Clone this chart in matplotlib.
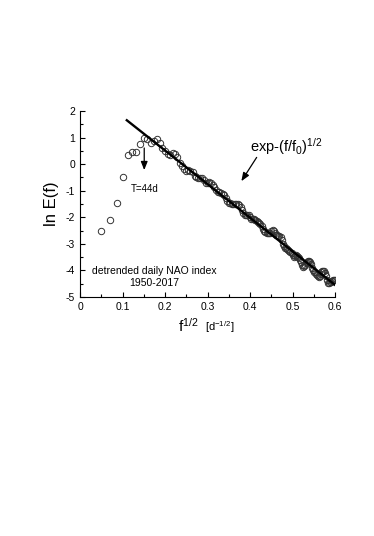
import matplotlib
matplotlib.use("Agg")
import matplotlib.pyplot as plt

plt.rcParams['font.family'] = ['Liberation Sans', 'DejaVu Sans']
plt.rcParams['mathtext.fontset'] = 'custom'
plt.rcParams['mathtext.rm'] = 'Liberation Sans'
plt.rcParams['mathtext.it'] = 'Liberation Sans'

# f^(1/2) values of the spectrum points
x_pts = [0.05, 0.0707, 0.0866, 0.1, 0.1118, 0.1225, 0.1323, 0.1414, 0.15, 0.1581,
         0.1658, 0.1732, 0.1803, 0.1871, 0.1936, 0.2, 0.2062, 0.2121, 0.2179, 0.2236,
         0.2291, 0.2345, 0.2398, 0.2449, 0.25, 0.255, 0.2598, 0.2646, 0.2693, 0.2739,
         0.2784, 0.2828, 0.2872, 0.2915, 0.2958, 0.3, 0.3041, 0.3082, 0.3122, 0.3162,
         0.3202, 0.3240, 0.3279, 0.3317, 0.3354, 0.3391, 0.3428, 0.3464, 0.35, 0.3536,
         0.3571, 0.3606, 0.3640, 0.3674, 0.3708, 0.3742, 0.3775, 0.3808, 0.3841, 0.3873,
         0.3905, 0.3937, 0.3969, 0.4, 0.4031, 0.4062, 0.4093, 0.4123, 0.4153, 0.4183,
         0.4213, 0.4243, 0.4272, 0.4301, 0.4330, 0.4359, 0.4387, 0.4416, 0.4444, 0.4472,
         0.45, 0.4528, 0.4555, 0.4583, 0.4610, 0.4637, 0.4664, 0.4690, 0.4717, 0.4743,
         0.4770, 0.4796, 0.4822, 0.4848, 0.4873, 0.4899, 0.4924, 0.4950, 0.4975, 0.5,
         0.5025, 0.5050, 0.5074, 0.5099, 0.5123, 0.5148, 0.5172, 0.5196, 0.5220, 0.5244,
         0.5268, 0.5292, 0.5315, 0.5339, 0.5362, 0.5385, 0.5408, 0.5431, 0.5454, 0.5477,
         0.55, 0.5523, 0.5545, 0.5568, 0.5590, 0.5612, 0.5635, 0.5657, 0.5679, 0.5701,
         0.5723, 0.5745, 0.5766, 0.5788, 0.5809, 0.5831, 0.5852, 0.5874, 0.5895, 0.5916,
         0.5937, 0.5958, 0.5979, 0.6]

# ln E(f)
y_pts = [-2.50, -2.10, -1.45, -0.48, 0.36, 0.44, 0.45, 0.74, 1.00, 0.93,
         0.80, 0.88, 0.93, 0.78, 0.62, 0.48, 0.38, 0.36, 0.40, 0.38,
         0.25, 0.05, -0.08, -0.20, -0.25, -0.22, -0.26, -0.30, -0.45, -0.50,
         -0.52, -0.52, -0.54, -0.60, -0.70, -0.72, -0.68, -0.70, -0.80, -0.88,
         -0.98, -1.06, -1.04, -1.10, -1.12, -1.18, -1.28, -1.40, -1.45, -1.48,
         -1.50, -1.52, -1.50, -1.52, -1.50, -1.54, -1.62, -1.73, -1.85, -1.90,
         -1.92, -1.93, -1.92, -1.98, -2.05, -2.08, -2.08, -2.10, -2.14, -2.18,
         -2.22, -2.25, -2.32, -2.45, -2.50, -2.55, -2.58, -2.60, -2.60, -2.58,
         -2.52, -2.48, -2.50, -2.58, -2.65, -2.68, -2.70, -2.72, -2.74, -2.85,
         -3.00, -3.10, -3.14, -3.16, -3.20, -3.24, -3.28, -3.30, -3.36, -3.44,
         -3.48, -3.46, -3.44, -3.46, -3.48, -3.52, -3.60, -3.70, -3.80, -3.86,
         -3.84, -3.78, -3.72, -3.68, -3.66, -3.66, -3.68, -3.76, -3.90, -4.00,
         -4.05, -4.08, -4.12, -4.18, -4.22, -4.24, -4.20, -4.14, -4.08, -4.04,
         -4.02, -4.04, -4.10, -4.22, -4.36, -4.46, -4.48, -4.45, -4.42, -4.40,
         -4.40, -4.38, -4.37, -4.36]

# straight-line fit exp-(f/f0)^(1/2)
fit_x = [0.11, 0.6]
fit_y = [1.65, -4.55]

x_ticks = [0, 0.1, 0.2, 0.3, 0.4, 0.5, 0.6]
x_ticklabels = ['0', '0.1', '0.2', '0.3', '0.4', '0.5', '0.6']
y_ticks = [-5, -4, -3, -2, -1, 0, 1, 2]
y_ticklabels = ['-5', '-4', '-3', '-2', '-1', '0', '1', '2']

fig = plt.figure(figsize=(3.74, 5.36), dpi=100)
ax = fig.add_axes([0.214, 0.446, 0.682, 0.347])

ax.plot(x_pts, y_pts, 'o', mfc='none', mec='#333333', mew=0.7, ms=4.6, zorder=2)
ax.plot(fit_x, fit_y, '-', color='black', lw=1.7, zorder=3)

ax.set_xlim(0, 0.6)
ax.set_ylim(-5, 2)
ax.set_xticks(x_ticks)
ax.set_xticklabels(x_ticklabels)
ax.set_yticks(y_ticks)
ax.set_yticklabels(y_ticklabels)
ax.set_xticks([0.05, 0.15, 0.25, 0.35, 0.45, 0.55], minor=True)
ax.set_yticks([-4.5, -3.5, -2.5, -1.5, -0.5, 0.5, 1.5], minor=True)
ax.tick_params(which='both', direction='in', labelsize=7.5, width=0.8)
ax.tick_params(which='major', length=3.5)
ax.tick_params(which='minor', length=2)
ax.tick_params(axis='x', pad=4)
for s in ['top', 'right']:
    ax.spines[s].set_visible(False)
for s in ['left', 'bottom']:
    ax.spines[s].set_linewidth(0.8)

ax.set_ylabel('ln E(f)', fontsize=12, labelpad=5)
ax.text(0.384, -0.155, r'f$^{1/2}$', fontsize=11, ha='left', va='center',
        transform=ax.transAxes)
ax.text(0.49, -0.16, r'[d$^{-1/2}$]', fontsize=8, ha='left', va='center',
        transform=ax.transAxes)

ax.annotate('', xy=(0.151, -0.33), xytext=(0.151, 0.71),
            arrowprops=dict(arrowstyle='-|>,head_length=0.5,head_width=0.2', color='black', lw=0.9))
ax.text(0.153, -0.94, 'T=44d', fontsize=7, ha='center', va='center')

ax.annotate('', xy=(0.376, -0.73), xytext=(0.419, 0.34),
            arrowprops=dict(arrowstyle='-|>,head_length=0.5,head_width=0.2', color='black', lw=0.9))
ax.text(0.40, 0.66, r'exp-(f/f$_0$)$^{1/2}$', fontsize=10.5, ha='left', va='center')

ax.text(0.174, -4.02, 'detrended daily NAO index', fontsize=7.5, ha='center', va='center')
ax.text(0.174, -4.48, '1950-2017', fontsize=7.5, ha='center', va='center')

fig.savefig('out.png', dpi=100)
